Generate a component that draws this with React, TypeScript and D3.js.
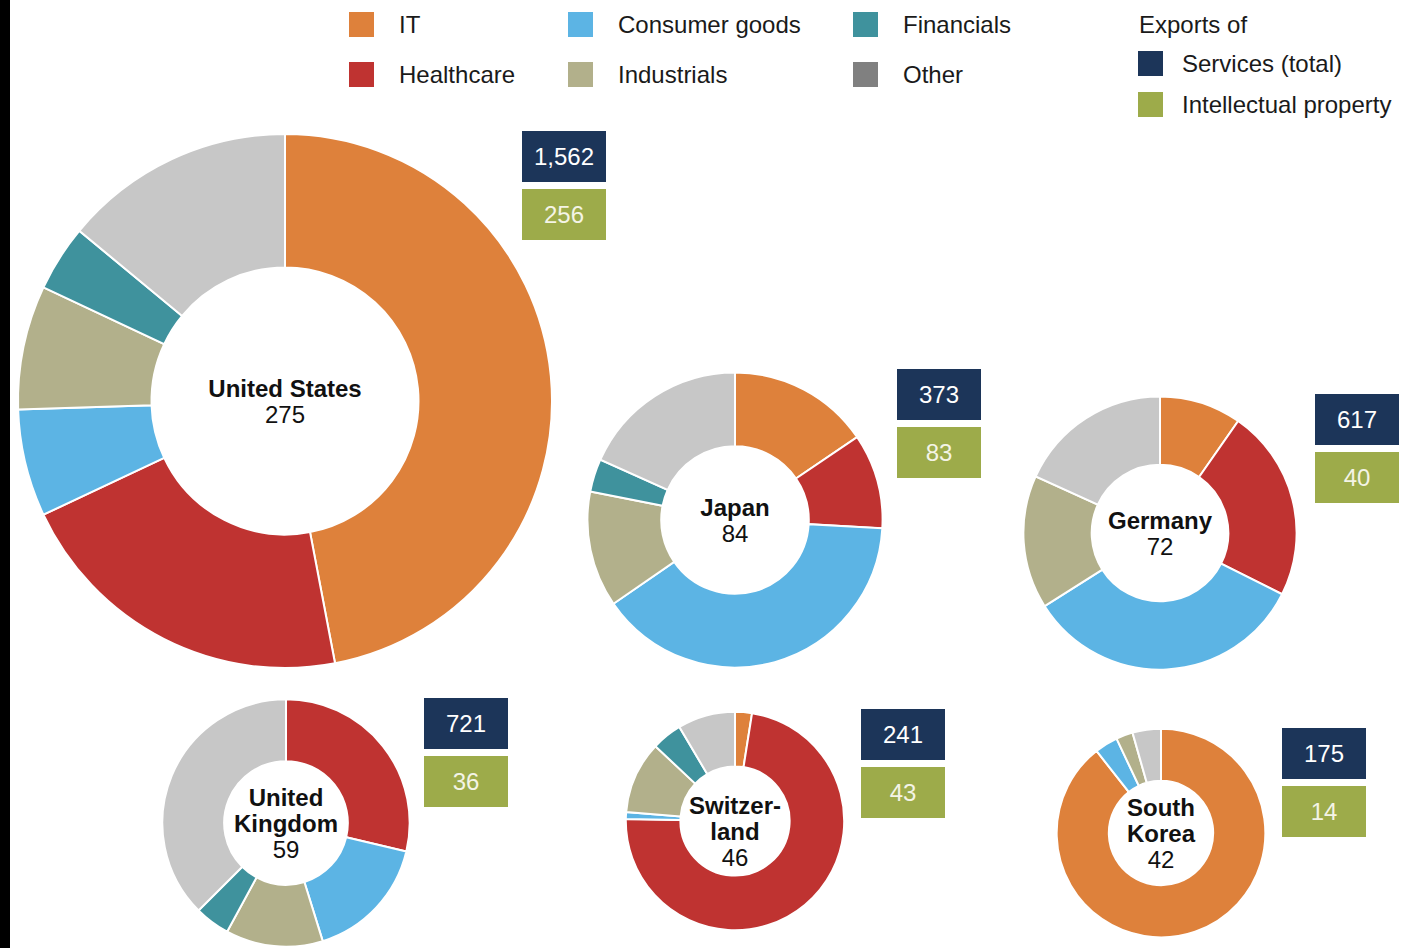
import { useEffect, useRef } from "react";
import * as d3 from "d3";

// sector shares (%) per country, clockwise from 12 o'clock
const countries = ["United States", "Japan", "Germany", "United Kingdom", "Switzerland", "South Korea"];
const labelLines = [["United States"], ["Japan"], ["Germany"], ["United", "Kingdom"], ["Switzer-", "land"], ["South", "Korea"]];
const totals = [275, 84, 72, 59, 46, 42];
const servicesExports = [1562, 373, 617, 721, 241, 175];
const ipExports = [256, 83, 40, 36, 43, 14];

const sectors = ["IT", "Healthcare", "Consumer goods", "Industrials", "Financials", "Other"];
const itShare = [47, 15.5, 9.7, 0, 2.5, 89.4];
const healthcareShare = [21, 10.4, 22.7, 28.7, 72.8, 0];
const consumerShare = [6.5, 39.5, 33.6, 16.5, 1, 3.6];
const industrialsShare = [7.5, 12.7, 15.8, 12.7, 10.7, 2.6];
const financialsShare = [4, 3.6, 0, 4.6, 4.5, 0];
const otherShare = [14, 18.3, 18.2, 37.5, 8.5, 4.4];

const sectorColors = ["#de813b", "#bf3331", "#5cb4e4", "#b2b08b", "#3f929d", "#c7c7c7"];
const legendColors = ["#de813b", "#bf3331", "#5cb4e4", "#b2b08b", "#3f929d", "#808080"];
const navy = "#1c3559";
const olive = "#9dab4a";

// layout: donut centres, label nudges and value box corners
const centers = [[285, 401], [735, 520], [1160, 533], [286, 823], [735, 821], [1161, 833]];
const labelNudge = [0, 0, 0, 0, 10, 0];
const boxCorners = [[522, 131], [897, 369], [1315, 394], [424, 698], [861, 709], [1282, 728]];

export default function App() {
    const ref = useRef<SVGSVGElement>(null);

    useEffect(() => {
        const svg = d3.select(ref.current);
        svg.selectAll("*").remove();
        const font = "'Liberation Sans', Arial, sans-serif";

        svg.append("rect").attr("width", 1419).attr("height", 948).attr("fill", "#fff");
        svg.append("rect").attr("width", 10).attr("height", 948).attr("fill", "#000");

        const shares = [itShare, healthcareShare, consumerShare, industrialsShare, financialsShare, otherShare];
        const rScale = d3.scaleSqrt().domain([0, 275]).range([0, 267]);
        const pie = d3.pie<number>().sort(null).value(d => d);
        const fmt = d3.format(",");

        countries.forEach((c, i) => {
            const values = shares.map(s => s[i]);
            const r = rScale(totals[i]);
            const arc = d3.arc<d3.PieArcDatum<number>>().innerRadius(r * 0.5).outerRadius(r);
            const g = svg.append("g").attr("transform", `translate(${centers[i][0]},${centers[i][1]})`);

            g.selectAll("path")
                .data(pie(values).filter(d => d.data > 0))
                .enter().append("path")
                .attr("d", arc)
                .attr("fill", d => sectorColors[d.index])
                .attr("stroke", "#fff")
                .attr("stroke-width", 2);

            const lines = [...labelLines[i], String(totals[i])];
            const lh = 26;
            lines.forEach((t, j) => {
                g.append("text")
                    .attr("x", 0)
                    .attr("y", (j - (lines.length - 1) / 2) * lh + labelNudge[i])
                    .attr("dy", "0.36em")
                    .attr("text-anchor", "middle")
                    .attr("font-family", font)
                    .attr("font-size", 24)
                    .attr("font-weight", j < lines.length - 1 ? "bold" : "normal")
                    .attr("fill", "#111")
                    .text(t);
            });

            // value boxes
            const bw = 84, bh = 51, gap = 7;
            const [bx, by] = boxCorners[i];
            [[servicesExports[i], navy, "#fff"], [ipExports[i], olive, "#f4f4e6"]].forEach(([v, col, tc], k) => {
                const y = by + k * (bh + gap);
                svg.append("rect").attr("x", bx).attr("y", y).attr("width", bw).attr("height", bh).attr("fill", col as string);
                svg.append("text")
                    .attr("x", bx + bw / 2)
                    .attr("y", y + bh / 2)
                    .attr("dy", "0.36em")
                    .attr("text-anchor", "middle")
                    .attr("font-family", font)
                    .attr("font-size", 24)
                    .attr("fill", tc as string)
                    .text(fmt(v as number));
            });
        });

        // sector legend
        const legendX = [349, 568, 853];
        const legendY = [12, 62];
        sectors.forEach((s, i) => {
            const x = legendX[Math.floor(i / 2)];
            const y = legendY[i % 2];
            svg.append("rect").attr("x", x).attr("y", y).attr("width", 25).attr("height", 25).attr("fill", legendColors[i]);
            svg.append("text")
                .attr("x", x + 50)
                .attr("y", y + 12.5)
                .attr("dy", "0.36em")
                .attr("font-family", font)
                .attr("font-size", 24)
                .attr("fill", "#1a1a1a")
                .text(s);
        });

        // exports legend
        svg.append("text")
            .attr("x", 1139).attr("y", 24).attr("dy", "0.36em")
            .attr("font-family", font).attr("font-size", 24).attr("fill", "#1a1a1a")
            .text("Exports of");
        [["Services (total)", navy, 51], ["Intellectual property", olive, 92]].forEach(([t, col, y]) => {
            svg.append("rect").attr("x", 1138).attr("y", y as number).attr("width", 25).attr("height", 25).attr("fill", col as string);
            svg.append("text")
                .attr("x", 1182).attr("y", (y as number) + 12.5).attr("dy", "0.36em")
                .attr("font-family", font).attr("font-size", 24).attr("fill", "#1a1a1a")
                .text(t as string);
        });
    }, []);

    return (
        <div style={{ position: "absolute", left: 0, top: 0 }}>
            <svg ref={ref} width={1419} height={948} style={{ display: "block" }}></svg>
        </div>
    );
}
